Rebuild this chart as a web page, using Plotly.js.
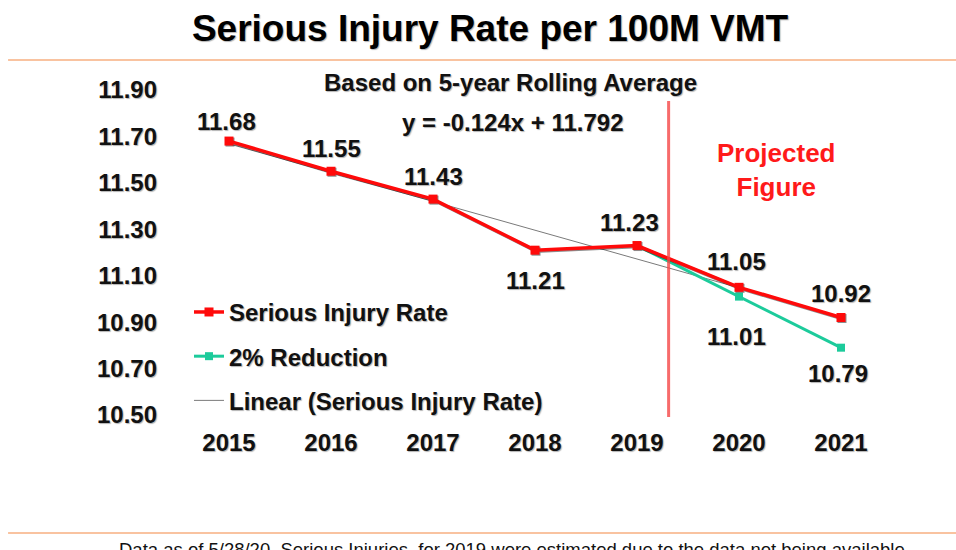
<!DOCTYPE html>
<html>
<head>
<meta charset="utf-8">
<script src="https://cdn.plot.ly/plotly-3.0.1.min.js"></script>
<style>html,body{margin:0;padding:0;background:#fff;}#chart{width:956px;height:550px;}</style>
</head>
<body>
<div id="chart"></div>
<script>
const years = [2015, 2016, 2017, 2018, 2019, 2020, 2021];
const seriousRate = [11.68, 11.55, 11.43, 11.21, 11.23, 11.05, 10.92];
const reductionYears = [2019, 2020, 2021];
const reductionRate = [11.23, 11.01, 10.79];
const trendYears = [2015, 2020];
const trendValues = [11.668, 11.048];
const yTicks = [10.5, 10.7, 10.9, 11.1, 11.3, 11.5, 11.7, 11.9];
const yTickLabels = ['10.50', '10.70', '10.90', '11.10', '11.30', '11.50', '11.70', '11.90'];
const projectionBoundary = 2019.31;

const FONT = 'Liberation Sans, Arial, Helvetica, sans-serif';
const SHADOW = '1px 1px 1px rgba(0,0,0,0.3)';
const RED = '#ff0a0a';
const TEAL = '#1ccb9b';
const FS = 24;

// label offsets (px) for readability: positive = above
const redShift = [20, 23, 23, -30, 23, 26, 24];
const redDx = [-3, 0, 0, 0, -8, -3, 0];
const tealShift = [null, -40, -26];

const annotations = [];
seriousRate.forEach((v, i) => {
  annotations.push({x: years[i], y: v, xref: 'x', yref: 'y', text: v.toFixed(2), showarrow: false,
    yshift: redShift[i], xshift: redDx[i], xanchor: 'center', yanchor: 'middle',
    font: {family: FONT, size: FS, color: '#111', weight: 'bold', shadow: SHADOW}});
});
reductionRate.forEach((v, i) => {
  if (tealShift[i] === null) return;
  annotations.push({x: reductionYears[i], y: v, xref: 'x', yref: 'y', text: v.toFixed(2), showarrow: false,
    yshift: tealShift[i], xshift: -3, xanchor: 'center', yanchor: 'middle',
    font: {family: FONT, size: FS, color: '#111', weight: 'bold', shadow: SHADOW}});
});
annotations.push({x: 0.465, y: 1.0246, xref: 'paper', yref: 'paper', text: 'Based on 5-year Rolling Average', showarrow: false,
  xanchor: 'center', yanchor: 'middle', font: {family: FONT, size: FS, color: '#111', weight: 'bold', shadow: SHADOW}});
annotations.push({x: 0.469, y: 0.9015, xref: 'paper', yref: 'paper', text: 'y = -0.124x + 11.792', showarrow: false,
  xanchor: 'center', yanchor: 'middle', font: {family: FONT, size: FS, color: '#111', weight: 'bold', shadow: SHADOW}});
annotations.push({x: 0.838, y: 0.753, xref: 'paper', yref: 'paper', text: 'Projected<br>Figure', showarrow: false,
  xanchor: 'center', yanchor: 'middle', align: 'center', font: {family: FONT, size: 26, color: '#ff1a1a', weight: 'bold'}});
annotations.push({x: 0.468, y: -0.414, xref: 'paper', yref: 'paper',
  text: 'Data as of 5/28/20. Serious Injuries  for 2019 were estimated due to the data not being available',
  showarrow: false, xanchor: 'center', yanchor: 'middle', font: {family: FONT, size: 18.5, color: '#111'}});

const traces = [
  {x: trendYears, y: trendValues, type: 'scatter', mode: 'lines', name: 'Linear (Serious Injury Rate)',
   legendgroup: 'c', legendrank: 3, line: {color: '#7a7a7a', width: 1}},
  {x: reductionYears, y: reductionRate, type: 'scatter', mode: 'lines+markers', name: '2% Reduction',
   legendgroup: 'b', legendrank: 2, line: {color: TEAL, width: 3}, marker: {symbol: 'square', size: 8, color: TEAL}},
  {x: years, y: seriousRate, type: 'scatter', mode: 'lines+markers', name: 'Serious Injury Rate',
   legendgroup: 'a', legendrank: 1, line: {color: RED, width: 3.5}, marker: {symbol: 'square', size: 9, color: RED}}
];

const layout = {
  width: 956, height: 550,
  paper_bgcolor: '#fff', plot_bgcolor: '#fff',
  margin: {l: 178, r: 64, t: 90, b: 135},
  title: {text: 'Serious Injury Rate per 100M VMT', x: 0.5126, xanchor: 'center', y: 0.949, yref: 'container', yanchor: 'middle',
    font: {family: FONT, size: 37, color: '#000', weight: 'bold', shadow: SHADOW}},
  xaxis: {range: [2014.5, 2021.5], tickvals: years, ticktext: years.map(String), showgrid: false, zeroline: false,
    showline: false, ticks: '', ticklabelstandoff: 11,
    tickfont: {family: FONT, size: FS, color: '#111', weight: 'bold', shadow: SHADOW}},
  yaxis: {range: [10.5, 11.9], tickvals: yTicks, ticktext: yTickLabels, showgrid: false, zeroline: false,
    showline: false, ticks: '', ticklabelstandoff: 20,
    tickfont: {family: FONT, size: FS, color: '#111', weight: 'bold', shadow: SHADOW}},
  showlegend: true,
  legend: {x: 0.0154, y: 0.385, xanchor: 'left', yanchor: 'top', traceorder: 'grouped', tracegroupgap: 10,
    bgcolor: 'rgba(0,0,0,0)', font: {family: FONT, size: FS, color: '#111', weight: 'bold', shadow: SHADOW}},
  shapes: [
    {type: 'line', xref: 'x', yref: 'paper', x0: projectionBoundary, x1: projectionBoundary, y0: -0.006, y1: 0.966,
     line: {color: 'rgba(245,70,70,0.8)', width: 3}},
    {type: 'line', xref: 'paper', yref: 'paper', x0: -0.238, x1: 1.09, y0: 1.0923, y1: 1.0923,
     line: {color: '#f9c3a0', width: 2}},
    {type: 'line', xref: 'paper', yref: 'paper', x0: -0.238, x1: 1.09, y0: -0.363, y1: -0.363,
     line: {color: '#f9c3a0', width: 2}}
  ],
  annotations: annotations
};

Plotly.newPlot('chart', traces, layout, {displayModeBar: false, staticPlot: true}).then(() => {
  const tr = document.querySelectorAll('.scatterlayer .trace');
  if (tr.length === 3) tr[2].style.filter = 'drop-shadow(1px 1px 0.6px rgba(0,0,0,0.45))';
});
</script>
</body>
</html>
